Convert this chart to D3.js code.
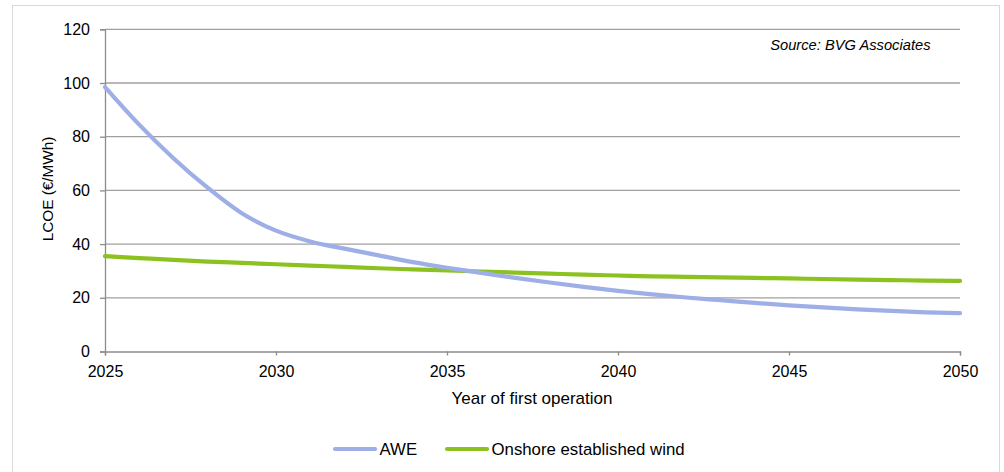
<!DOCTYPE html>
<html>
<head>
<meta charset="utf-8">
<script src="https://cdn.jsdelivr.net/npm/d3@7"></script>
<style>
  body { margin: 0; background: #fff; font-family: "Liberation Sans", Arial, sans-serif; }
  svg text { fill: #000; }
</style>
</head>
<body>
<svg id="chart" width="1004" height="472"></svg>
<script>
// data
const years = d3.range(2025, 2051)
const awe = [98.5, 84.5, 72, 61, 51.5, 45, 41, 38.3, 35.8, 33.3, 31.2, 29.3, 27.4, 25.7, 24.1, 22.6, 21.3, 20.1, 19.1, 18.1, 17.2, 16.4, 15.7, 15.1, 14.6, 14.3]
const onshore = [35.5, 34.8, 34.1, 33.5, 33.0, 32.5, 32.0, 31.5, 31.0, 30.6, 30.2, 29.8, 29.4, 29.0, 28.6, 28.3, 28.0, 27.8, 27.6, 27.4, 27.2, 27.0, 26.8, 26.6, 26.4, 26.3]
const seriesNames = ["AWE", "Onshore established wind"]
const seriesColors = ["#9eaee6", "#8cc220"]
const xTicks = [2025, 2030, 2035, 2040, 2045, 2050]
const yTicks = [0, 20, 40, 60, 80, 100, 120]

const svg = d3.select("#chart")

// outer frame
svg.append("rect")
  .attr("x", 12.5).attr("y", 5.5)
  .attr("width", 987).attr("height", 480)
  .attr("fill", "none").attr("stroke", "#d9d9d9")

const x = d3.scaleLinear().domain([2025, 2050]).range([105, 960])
const y = d3.scaleLinear().domain([0, 120]).range([351.5, 29.3])

// gridlines
svg.append("g")
  .selectAll("line")
  .data(yTicks.filter(d => d > 0))
  .join("line")
  .attr("x1", x(2025)).attr("x2", x(2050))
  .attr("y1", d => y(d)).attr("y2", d => y(d))
  .attr("stroke", "#a0a0a0").attr("stroke-width", 1.3)

// y axis
const yAxis = svg.append("g")
  .attr("transform", `translate(${x(2025)},0)`)
  .call(d3.axisLeft(y).tickValues(yTicks).tickSize(5).tickPadding(10))
yAxis.select(".domain").attr("stroke", "#8c8c8c").attr("stroke-width", 1.3)
yAxis.selectAll(".tick line").attr("stroke", "#8c8c8c").attr("stroke-width", 1.3)
yAxis.selectAll("text").attr("font-size", 16).attr("font-family", "Liberation Sans, Arial, sans-serif")

// x axis
const xAxis = svg.append("g")
  .attr("transform", `translate(0,${y(0)})`)
  .call(d3.axisBottom(x).tickValues(xTicks).tickFormat(d3.format("d")).tickSize(4).tickPadding(10))
xAxis.select(".domain").attr("stroke", "#8c8c8c").attr("stroke-width", 1.3)
xAxis.selectAll(".tick line").attr("stroke", "#8c8c8c").attr("stroke-width", 1.3)
xAxis.selectAll("text").attr("font-size", 16).attr("font-family", "Liberation Sans, Arial, sans-serif")

// lines
const line = d3.line()
  .x((d, i) => x(years[i]))
  .y(d => y(d))
  .curve(d3.curveMonotoneX)

svg.append("g")
  .selectAll("path")
  .data([onshore, awe])
  .join("path")
  .attr("d", d => line(d))
  .attr("fill", "none")
  .attr("stroke", (d, i) => i === 0 ? seriesColors[1] : seriesColors[0])
  .attr("stroke-width", 4.2)
  .attr("stroke-linecap", "round")

// axis titles
svg.append("text")
  .attr("x", 532).attr("y", 404)
  .attr("text-anchor", "middle")
  .attr("font-size", 17)
  .text("Year of first operation")

svg.append("text")
  .attr("transform", "translate(53,189) rotate(-90)")
  .attr("text-anchor", "middle")
  .attr("font-size", 15.3)
  .text("LCOE (€/MWh)")

// source note
svg.append("text")
  .attr("x", 930.5).attr("y", 50)
  .attr("text-anchor", "end")
  .attr("font-size", 14.7)
  .attr("font-style", "italic")
  .text("Source: BVG Associates")

// legend
const legendX = [333, 445]
const lg = svg.append("g")
  .selectAll("g")
  .data(seriesNames)
  .join("g")
  .attr("transform", (d, i) => `translate(${legendX[i]},449)`)
lg.append("line")
  .attr("x1", 2).attr("x2", 42)
  .attr("stroke", (d, i) => seriesColors[i])
  .attr("stroke-width", 4.2)
  .attr("stroke-linecap", "round")
lg.append("text")
  .attr("x", 46.5).attr("y", 6)
  .attr("font-size", 16.8)
  .text(d => d)
</script>
</body>
</html>
